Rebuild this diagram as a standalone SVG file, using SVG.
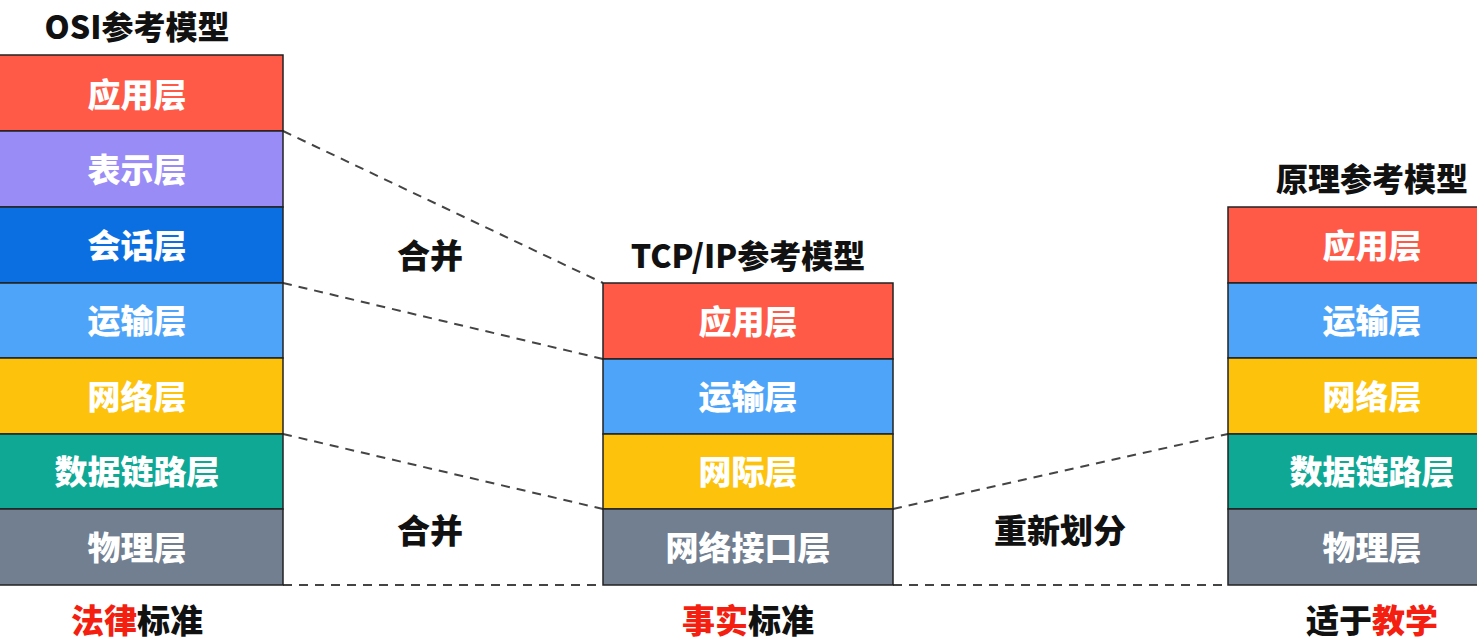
<svg xmlns="http://www.w3.org/2000/svg" width="1477" height="641" viewBox="0 0 1477 641">
<style>
  .box { stroke: #222; stroke-width: 1.5; }
  .lt { font-family: "Noto Sans CJK SC", "Noto Sans", sans-serif; font-weight: 900; font-size: 33px; fill: #fff; text-anchor: middle; dominant-baseline: central; }
  .tt { font-family: "Noto Sans CJK SC", "Noto Sans", sans-serif; font-weight: 900; font-size: 32px; fill: #111; text-anchor: middle; dominant-baseline: central; }
  .bt { font-family: "Noto Sans CJK SC", "Noto Sans", sans-serif; font-weight: 900; font-size: 33px; fill: #111; text-anchor: middle; dominant-baseline: central; }
  .red { fill: #f41f10; }
  .dash { stroke: #444; stroke-width: 2; stroke-dasharray: 9 7; fill: none; }
  .c-app { fill: #fe5a47; } .c-pre { fill: #9a8cf7; } .c-ses { fill: #0b6fe2; }
  .c-tra { fill: #4ea4f9; } .c-net { fill: #fdc20b; } .c-dl { fill: #0ea894; } .c-phy { fill: #717f91; }
</style>
<rect width="1477" height="641" fill="#fff"/>
<g id="connectors">
  <line class="dash" x1="283" y1="131" x2="603" y2="283"/>
  <line class="dash" x1="283" y1="283" x2="603" y2="359"/>
  <line class="dash" x1="283" y1="434" x2="603" y2="509"/>
  <line class="dash" x1="283" y1="585" x2="603" y2="585"/>
  <line class="dash" x1="893" y1="509" x2="1228" y2="434"/>
  <line class="dash" x1="893" y1="585" x2="1228" y2="585"/>
</g>
<g id="osi">
  <text class="tt" x="137" y="25">OSI参考模型</text>
  <g id="osi-app"><rect class="box c-app" x="-2" y="55" width="285" height="76"/><text class="lt" x="137" y="93">应用层</text></g>
  <g id="osi-pre"><rect class="box c-pre" x="-2" y="131" width="285" height="76"/><text class="lt" x="137" y="168">表示层</text></g>
  <g id="osi-ses"><rect class="box c-ses" x="-2" y="207" width="285" height="76"/><text class="lt" x="137" y="244">会话层</text></g>
  <g id="osi-tra"><rect class="box c-tra" x="-2" y="283" width="285" height="75"/><text class="lt" x="137" y="319">运输层</text></g>
  <g id="osi-net"><rect class="box c-net" x="-2" y="358" width="285" height="76"/><text class="lt" x="137" y="395">网络层</text></g>
  <g id="osi-dl"><rect class="box c-dl" x="-2" y="434" width="285" height="75"/><text class="lt" x="137" y="470">数据链路层</text></g>
  <g id="osi-phy"><rect class="box c-phy" x="-2" y="509" width="285" height="76"/><text class="lt" x="137" y="546">物理层</text></g>
  <text class="bt" x="137" y="619"><tspan class="red">法律</tspan>标准</text>
</g>
<g id="tcpip">
  <text class="tt" x="748" y="254">TCP/IP参考模型</text>
  <g id="tcp-app"><rect class="box c-app" x="603" y="283" width="290" height="76"/><text class="lt" x="748" y="320">应用层</text></g>
  <g id="tcp-tra"><rect class="box c-tra" x="603" y="359" width="290" height="75"/><text class="lt" x="748" y="395">运输层</text></g>
  <g id="tcp-inet"><rect class="box c-net" x="603" y="434" width="290" height="75"/><text class="lt" x="748" y="470">网际层</text></g>
  <g id="tcp-if"><rect class="box c-phy" x="603" y="509" width="290" height="76"/><text class="lt" x="748" y="546">网络接口层</text></g>
  <text class="bt" x="748" y="619"><tspan class="red">事实</tspan>标准</text>
</g>
<g id="principle">
  <text class="tt" x="1372" y="177">原理参考模型</text>
  <g id="pr-app"><rect class="box c-app" x="1228" y="207" width="252" height="76"/><text class="lt" x="1372" y="244">应用层</text></g>
  <g id="pr-tra"><rect class="box c-tra" x="1228" y="283" width="252" height="75"/><text class="lt" x="1372" y="319">运输层</text></g>
  <g id="pr-net"><rect class="box c-net" x="1228" y="358" width="252" height="76"/><text class="lt" x="1372" y="395">网络层</text></g>
  <g id="pr-dl"><rect class="box c-dl" x="1228" y="434" width="252" height="75"/><text class="lt" x="1372" y="470">数据链路层</text></g>
  <g id="pr-phy"><rect class="box c-phy" x="1228" y="509" width="252" height="76"/><text class="lt" x="1372" y="546">物理层</text></g>
  <text class="bt" x="1372" y="619">适于<tspan class="red">教学</tspan></text>
</g>
<g id="labels">
  <text class="bt" x="430" y="254">合并</text>
  <text class="bt" x="430" y="529">合并</text>
  <text class="bt" x="1060" y="529">重新划分</text>
</g>
</svg>
